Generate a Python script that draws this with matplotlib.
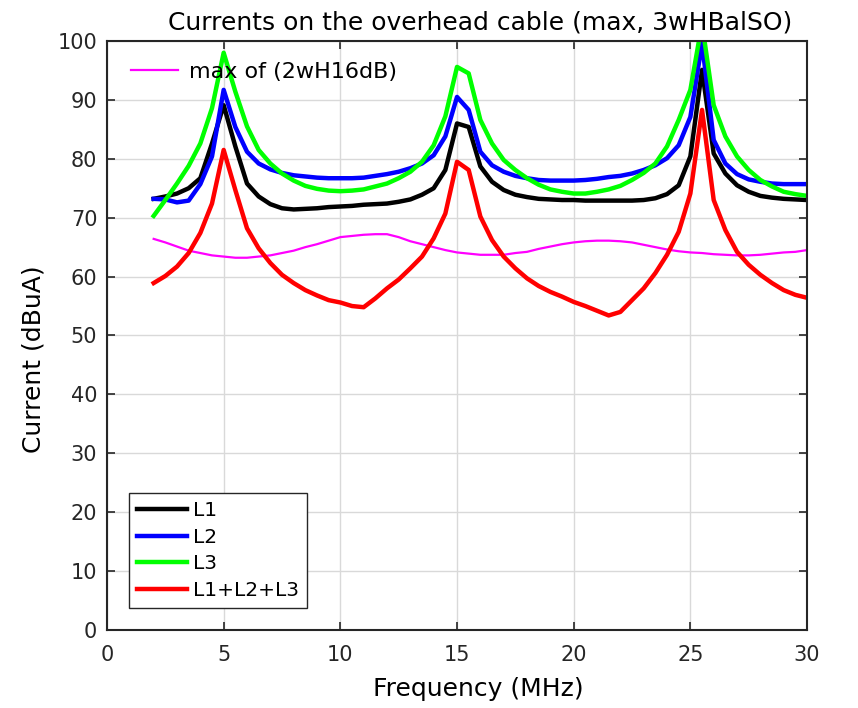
## Currents on the overhead cable: L1, L2, L3 and their sum against frequency
import numpy as np
import matplotlib
matplotlib.use("Agg")
import matplotlib.pyplot as plt

plt.rcParams['font.family'] = ['DejaVu Sans']

######Data#######
freq = np.arange(2.0, 30.01, 0.5)  # MHz, 0.5 MHz sweep

L1 = [73.2, 73.6, 74.1, 75.0, 76.7, 82.6, 89.1, 82.1, 75.8, 73.6, 72.3, 71.6, 71.4, 71.5,
      71.6, 71.8, 71.9, 72.0, 72.2, 72.3, 72.4, 72.7, 73.1, 73.9, 75.0, 78.1, 86.0, 85.4,
      78.7, 76.1, 74.7, 73.9, 73.5, 73.2, 73.1, 73.0, 73.0, 72.9, 72.9, 72.9, 72.9, 72.9,
      73.0, 73.3, 74.0, 75.5, 80.4, 95.1, 80.9, 77.5, 75.5, 74.4, 73.7, 73.4, 73.2, 73.1, 73.0]

L2 = [73.2, 73.1, 72.6, 72.9, 75.7, 80.4, 91.7, 85.4, 81.2, 79.2, 78.2, 77.6, 77.2, 77.0,
      76.8, 76.7, 76.7, 76.7, 76.8, 77.1, 77.4, 77.8, 78.4, 79.2, 80.6, 83.8, 90.5, 88.3,
      81.2, 78.9, 77.8, 77.1, 76.7, 76.4, 76.3, 76.3, 76.3, 76.4, 76.6, 76.9, 77.1, 77.5,
      78.1, 78.9, 80.1, 82.3, 87.1, 99.6, 83.2, 79.2, 77.4, 76.5, 76.1, 75.8, 75.7, 75.7, 75.7]

L3 = [70.3, 73.0, 75.8, 78.8, 82.6, 88.6, 98.0, 91.4, 85.5, 81.5, 79.2, 77.5, 76.3, 75.4,
      74.9, 74.6, 74.5, 74.6, 74.8, 75.3, 75.8, 76.7, 77.8, 79.5, 82.3, 87.2, 95.6, 94.5,
      86.6, 82.6, 79.8, 78.1, 76.7, 75.6, 74.8, 74.4, 74.1, 74.1, 74.4, 74.8, 75.4, 76.4,
      77.6, 79.2, 82.1, 86.6, 91.7, 103.0, 89.1, 83.8, 80.4, 78.1, 76.4, 75.3, 74.4, 74.0, 73.7]

Lsum = [58.9, 60.1, 61.7, 64.0, 67.4, 72.4, 81.5, 74.7, 68.2, 64.8, 62.3, 60.3, 58.9, 57.7,
        56.8, 56.0, 55.6, 55.0, 54.8, 56.3, 58.0, 59.5, 61.4, 63.4, 66.5, 70.7, 79.5, 78.1,
        70.2, 66.2, 63.4, 61.4, 59.7, 58.4, 57.4, 56.6, 55.7, 55.0, 54.2, 53.4, 54.0, 56.0,
        58.0, 60.6, 63.7, 67.6, 74.1, 88.3, 73.0, 67.9, 64.2, 62.0, 60.3, 58.9, 57.7, 56.9, 56.4]

# reference level: max of the 2wH16dB case
ref_max = [66.4, 65.8, 65.1, 64.4, 64.0, 63.6, 63.4, 63.2, 63.2, 63.4, 63.6, 64.0, 64.4, 65.0,
           65.5, 66.1, 66.7, 66.9, 67.1, 67.2, 67.2, 66.7, 66.0, 65.5, 65.0, 64.5, 64.1, 63.9,
           63.7, 63.7, 63.7, 64.0, 64.2, 64.7, 65.1, 65.5, 65.8, 66.0, 66.1, 66.1, 66.0, 65.8,
           65.4, 65.0, 64.6, 64.3, 64.1, 64.0, 63.8, 63.7, 63.6, 63.6, 63.7, 63.9, 64.1, 64.2, 64.5]

x_ticks = [0, 5, 10, 15, 20, 25, 30]
y_ticks = list(range(0, 101, 10))

######Plot#######
fig = plt.figure(figsize=(8.58, 7.08), dpi=100)
ax = fig.add_axes([0.1247, 0.1102, 0.8159, 0.8319])

mag, = ax.plot(freq, ref_max, color='#ff00ff', lw=1.6, label='max of (2wH16dB)')
h1, = ax.plot(freq, L1, color='k', lw=3.2, label='L1')
h2, = ax.plot(freq, L2, color='#0000ff', lw=3.2, label='L2')
h3, = ax.plot(freq, L3, color='#00ff00', lw=3.2, label='L3')
h4, = ax.plot(freq, Lsum, color='#ff0000', lw=3.2, label='L1+L2+L3')

ax.set_xlim(0, 30)
ax.set_ylim(0, 100)
ax.set_xticks(x_ticks)
ax.set_yticks(y_ticks)
ax.grid(True, color='#d9d9d9', lw=1.0)
ax.set_axisbelow(True)
ax.tick_params(direction='in', length=6, width=1.2, colors='#262626', labelsize=15,
               top=True, right=True)
ax.tick_params(axis='x', pad=11)
ax.tick_params(axis='y', pad=7)
for s in ax.spines.values():
    s.set_color('#262626')
    s.set_linewidth(1.5)

# title and axis labels sit a little off-centre, placed by hand
ax.text(0.533, 1.032, 'Currents on the overhead cable (max, 3wHBalSO)', fontsize=18,
        ha='center', va='center', transform=ax.transAxes)
ax.set_xlabel('Frequency (MHz)', fontsize=18)
ax.set_ylabel('Current (dBuA)', fontsize=18)
ax.xaxis.label.set_va('center')
ax.yaxis.label.set_va('center')
ax.xaxis.set_label_coords(0.53, -0.100)
ax.yaxis.set_label_coords(-0.105, 0.46)

# two legends: reference curve at top, phases boxed at bottom
leg1 = ax.legend(handles=[mag], loc='upper left', frameon=False, fontsize=16,
                 handlelength=2.1, handletextpad=0.5, borderaxespad=0.0,
                 bbox_to_anchor=(0.022, 0.98))
ax.add_artist(leg1)
leg2 = ax.legend(handles=[h1, h2, h3, h4], loc='lower left', fontsize=14.5,
                 handlelength=2.5, handletextpad=0.3, labelspacing=0.38,
                 borderpad=0.4, borderaxespad=0.0, fancybox=False,
                 bbox_to_anchor=(0.031, 0.037))
leg2.get_frame().set_edgecolor('#262626')
leg2.get_frame().set_linewidth(1.0)
leg2.get_frame().set_alpha(1.0)

fig.savefig('out.png', dpi=100)
